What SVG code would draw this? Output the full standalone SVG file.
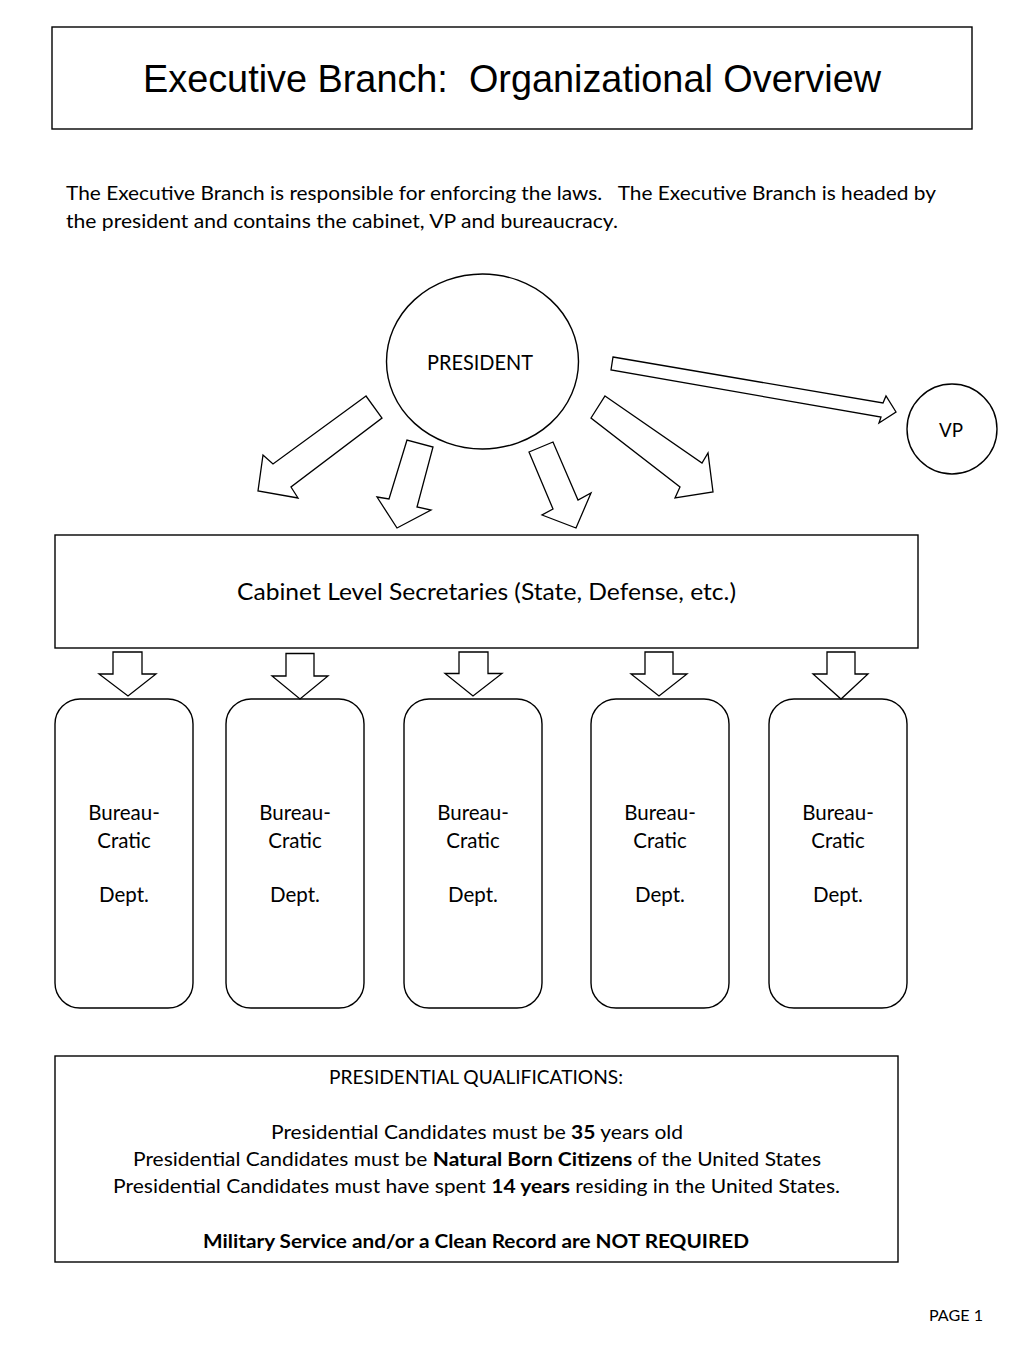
<svg xmlns="http://www.w3.org/2000/svg" width="1024" height="1365" viewBox="0 0 1024 1365">
<style>
.bg{fill:#fff}
.box{fill:#fff;stroke:#000;stroke-width:1.4}
.arr{fill:#fff;stroke:#000;stroke-width:1.3;stroke-linejoin:miter}
.t{font-family:Lato,"Open Sans","Liberation Sans",sans-serif;fill:#000}
.title{font-family:"Liberation Sans",Arial,sans-serif;fill:#000;font-size:39.5px}
.c{text-anchor:middle}
.b{font-weight:bold}
.bu{font-size:20.5px}
</style>
<rect class="bg" x="0" y="0" width="1024" height="1365"/>
<g id="title">
<rect class="box" x="52" y="27" width="920" height="102"/>
<text class="title" x="143" y="92" textLength="738" lengthAdjust="spacingAndGlyphs" xml:space="preserve">Executive Branch:  Organizational Overview</text>
</g>
<g id="intro">
<text class="t" x="66" y="200" font-size="19.5" textLength="870" lengthAdjust="spacingAndGlyphs" xml:space="preserve">The Executive Branch is responsible for enforcing the laws.   The Executive Branch is headed by</text>
<text class="t" x="66" y="228" font-size="19.5" textLength="552" lengthAdjust="spacingAndGlyphs">the president and contains the cabinet, VP and bureaucracy.</text>
</g>
<g id="president">
<ellipse class="box" cx="482.5" cy="361.5" rx="96" ry="87.5"/>
<text class="t" x="427" y="370" font-size="21" textLength="106" lengthAdjust="spacingAndGlyphs">PRESIDENT</text>
</g>
<g id="vp">
<circle class="box" cx="952" cy="429" r="45"/>
<text class="t" x="939" y="437" font-size="20" textLength="24" lengthAdjust="spacingAndGlyphs">VP</text>
</g>
<g id="cabinet">
<rect class="box" x="55" y="535" width="863" height="113"/>
<text class="t" x="237" y="600" font-size="22.5" textLength="499" lengthAdjust="spacingAndGlyphs">Cabinet Level Secretaries (State, Defense, etc.)</text>
</g>
<g id="bureau1">
<rect class="box" x="55" y="699" width="138" height="309" rx="25" ry="25"/>
<text class="t c bu" x="124" y="820">Bureau-</text>
<text class="t c bu" x="124" y="848">Cratic</text>
<text class="t c bu" x="124" y="902">Dept.</text>
</g>
<g id="bureau2">
<rect class="box" x="226" y="699" width="138" height="309" rx="25" ry="25"/>
<text class="t c bu" x="295" y="820">Bureau-</text>
<text class="t c bu" x="295" y="848">Cratic</text>
<text class="t c bu" x="295" y="902">Dept.</text>
</g>
<g id="bureau3">
<rect class="box" x="404" y="699" width="138" height="309" rx="25" ry="25"/>
<text class="t c bu" x="473" y="820">Bureau-</text>
<text class="t c bu" x="473" y="848">Cratic</text>
<text class="t c bu" x="473" y="902">Dept.</text>
</g>
<g id="bureau4">
<rect class="box" x="591" y="699" width="138" height="309" rx="25" ry="25"/>
<text class="t c bu" x="660" y="820">Bureau-</text>
<text class="t c bu" x="660" y="848">Cratic</text>
<text class="t c bu" x="660" y="902">Dept.</text>
</g>
<g id="bureau5">
<rect class="box" x="769" y="699" width="138" height="309" rx="25" ry="25"/>
<text class="t c bu" x="838" y="820">Bureau-</text>
<text class="t c bu" x="838" y="848">Cratic</text>
<text class="t c bu" x="838" y="902">Dept.</text>
</g>
<g id="qualifications">
<rect class="box" x="55" y="1056" width="843" height="206"/>
<text class="t" x="329" y="1084" font-size="19.5" textLength="294" lengthAdjust="spacingAndGlyphs">PRESIDENTIAL QUALIFICATIONS:</text>
<text class="t" x="271" y="1139" font-size="19.5" textLength="412" lengthAdjust="spacingAndGlyphs">Presidential Candidates must be <tspan class="b">35</tspan> years old</text>
<text class="t" x="133" y="1166" font-size="19.5" textLength="688" lengthAdjust="spacingAndGlyphs">Presidential Candidates must be <tspan class="b">Natural Born Citizens</tspan> of the United States</text>
<text class="t" x="113" y="1193" font-size="19.5" textLength="727" lengthAdjust="spacingAndGlyphs">Presidential Candidates must have spent <tspan class="b">14 years</tspan> residing in the United States.</text>
<text class="t b" x="203" y="1248" font-size="19.5" textLength="546" lengthAdjust="spacingAndGlyphs">Military Service and/or a Clean Record are NOT REQUIRED</text>
</g>
<g id="page">
<text class="t" x="929" y="1321" font-size="15" textLength="54" lengthAdjust="spacingAndGlyphs">PAGE 1</text>
</g>
<g id="connectors">
<polygon class="arr" points="366,396 273,464 263,455 258,491 298,498 291,487 382,418"/>
<polygon class="arr" points="407,440 389,499 377,497 397,528 431,510 417,507 433,447"/>
<polygon class="arr" points="529,452 553,509 542,515 576,528 591,493 578,500 553,442"/>
<polygon class="arr" points="605,396 702,463 708,453 713,492 675,498 680,487 591,418"/>
<polygon class="arr" points="613,357 883,403 886,396 896,412 879,423 881,417 611,370"/>
<polygon class="arr" points="113,652 142,652 142,674 156,674 128,696 99,674 113,674"/>
<polygon class="arr" points="286,653.5 314,653.5 314,676 328,676 300,699 272,676 286,676"/>
<polygon class="arr" points="459,652 488,652 488,673.5 502,673.5 473,696 445,673.5 459,673.5"/>
<polygon class="arr" points="645,652 673,652 673,674 687,674 659,696 631,674 645,674"/>
<polygon class="arr" points="827,652 855,652 855,674 868,674 841,699 813,674 827,674"/>
</g>
</svg>
